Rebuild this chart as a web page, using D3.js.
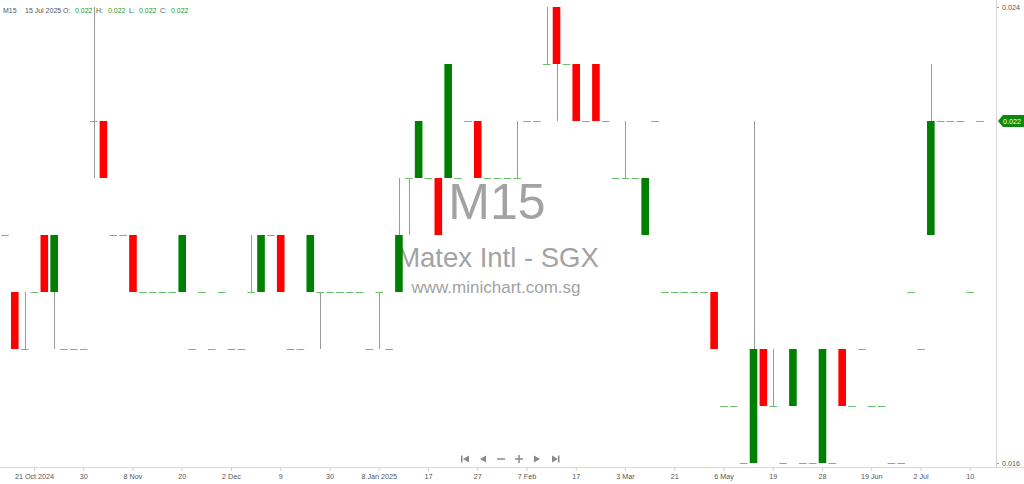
<!DOCTYPE html>
<html>
<head>
<meta charset="utf-8">
<script src="https://cdn.jsdelivr.net/npm/d3@7"></script>
<style>
  body { margin: 0; background: #fff; }
  svg { display: block; font-family: "Liberation Sans", Arial, sans-serif; }
</style>
</head>
<body>
<svg id="chart" width="1024" height="484"></svg>
<script>
// one entry per trading session, oldest first
const opens  = [0.020,0.019,0.018,0.019,0.020,0.019,0.018,0.018,0.018,0.022,
                0.022,0.020,0.020,0.020,0.019,0.019,0.019,0.019,0.019,0.018,
                0.019,0.018,0.019,0.018,0.018,0.019,0.019,0.020,0.020,0.018,
                0.018,0.019,0.019,0.019,0.019,0.019,0.019,0.018,0.019,0.018,
                0.019,0.021,0.021,0.021,0.021,0.021,0.021,0.022,0.022,0.021,
                0.021,0.021,0.021,0.022,0.022,0.023,0.024,0.023,0.023,0.022,
                0.023,0.022,0.021,0.021,0.021,0.020,0.022,0.019,0.019,0.019,
                0.019,0.019,0.019,0.017,0.017,0.016,0.016,0.018,0.017,0.016,
                0.017,0.016,0.016,0.016,0.016,0.018,0.017,0.018,0.017,0.017,
                0.016,0.016,0.019,0.018,0.020,0.022,0.022,0.022,0.019,0.022];
const highs  = [0.020,0.019,0.019,0.019,0.020,0.020,0.018,0.018,0.018,0.024,
                0.022,0.020,0.020,0.020,0.019,0.019,0.019,0.019,0.020,0.018,
                0.019,0.018,0.019,0.018,0.018,0.020,0.020,0.020,0.020,0.018,
                0.018,0.020,0.019,0.019,0.019,0.019,0.019,0.018,0.019,0.018,
                0.021,0.021,0.022,0.021,0.021,0.023,0.021,0.022,0.022,0.021,
                0.021,0.021,0.022,0.022,0.022,0.024,0.024,0.023,0.023,0.022,
                0.023,0.022,0.021,0.022,0.021,0.021,0.022,0.019,0.019,0.019,
                0.019,0.019,0.019,0.017,0.017,0.016,0.022,0.018,0.018,0.016,
                0.018,0.016,0.016,0.018,0.016,0.018,0.017,0.018,0.017,0.017,
                0.016,0.016,0.019,0.018,0.023,0.022,0.022,0.022,0.019,0.022];
const lows   = [0.020,0.018,0.018,0.019,0.019,0.018,0.018,0.018,0.018,0.021,
                0.021,0.020,0.020,0.019,0.019,0.019,0.019,0.019,0.019,0.018,
                0.019,0.018,0.019,0.018,0.018,0.019,0.019,0.020,0.019,0.018,
                0.018,0.019,0.018,0.019,0.019,0.019,0.019,0.018,0.018,0.018,
                0.019,0.020,0.021,0.021,0.020,0.021,0.021,0.022,0.021,0.021,
                0.021,0.021,0.021,0.022,0.022,0.023,0.022,0.023,0.022,0.022,
                0.022,0.022,0.021,0.021,0.021,0.020,0.022,0.019,0.019,0.019,
                0.019,0.019,0.018,0.017,0.017,0.016,0.016,0.017,0.017,0.016,
                0.017,0.016,0.016,0.016,0.016,0.017,0.017,0.018,0.017,0.017,
                0.016,0.016,0.019,0.018,0.020,0.022,0.022,0.022,0.019,0.022];
const closes = [0.020,0.018,0.018,0.019,0.019,0.020,0.018,0.018,0.018,0.022,
                0.021,0.020,0.020,0.019,0.019,0.019,0.019,0.019,0.020,0.018,
                0.019,0.018,0.019,0.018,0.018,0.019,0.020,0.020,0.019,0.018,
                0.018,0.020,0.019,0.019,0.019,0.019,0.019,0.018,0.019,0.018,
                0.020,0.021,0.022,0.021,0.020,0.023,0.021,0.022,0.021,0.021,
                0.021,0.021,0.021,0.022,0.022,0.023,0.023,0.023,0.022,0.022,
                0.022,0.022,0.021,0.021,0.021,0.021,0.022,0.019,0.019,0.019,
                0.019,0.019,0.018,0.017,0.017,0.016,0.018,0.017,0.017,0.016,
                0.018,0.016,0.016,0.018,0.016,0.017,0.017,0.018,0.017,0.017,
                0.016,0.016,0.019,0.018,0.022,0.022,0.022,0.022,0.019,0.022];

// date labels under the axis, by session number
const tickSessions = [3, 8, 13, 18, 23, 28, 33, 38, 43, 48, 53, 58, 63, 68, 73, 78, 83, 88, 93, 98];
const tickLabels = ['21 Oct 2024', '30', '8 Nov', '20', '2 Dec', '9', '30', '8 Jan 2025', '17', '27',
                    '7 Feb', '17', '3 Mar', '21', '6 May', '19', '28', '19 Jun', '2 Jul', '10'];
const priceTicks = [0.016, 0.024];
const lastPrice = 0.022;

const W = 1024;
const plotRight = 996, plotBottom = 467;

const svg = d3.select('#chart');

const x = d3.scaleBand()
  .domain(opens.map((d, i) => i))
  .range([0, 985])
  .padding(0);

const y = d3.scaleLinear()
  .domain([0.016, 0.024])
  .range([463, 7]);

const cx = i => x(i) + x.bandwidth() / 2;
const bodyW = 7.6;

// watermark sits under the candles
const wm = svg.append('g').attr('fill', '#a3a3a3').attr('text-anchor', 'middle');
wm.append('text').attr('x', 497).attr('y', 219).attr('font-size', 50).text('M15');
wm.append('text').attr('x', 498).attr('y', 267).attr('font-size', 27.5).text('Matex Intl - SGX');
wm.append('text').attr('x', 496).attr('y', 293).attr('font-size', 17).text('www.minichart.com.sg');

const candles = svg.append('g')
  .selectAll('g')
  .data(opens)
  .join('g');

candles.each(function (o, i) {
  const g = d3.select(this);
  const c = closes[i];
  const wx = Math.round(cx(i)) + 0.5;
  if (highs[i] !== lows[i]) {
    g.append('line')
      .attr('x1', wx).attr('x2', wx)
      .attr('y1', y(highs[i]))
      .attr('y2', y(lows[i]))
      .attr('stroke', '#9a9a9a')
      .attr('stroke-width', 1);
  }
  if (o === c) {
    g.append('line')
      .attr('x1', cx(i) - bodyW / 2)
      .attr('x2', cx(i) + bodyW / 2)
      .attr('y1', Math.round(y(o)) + 0.5)
      .attr('y2', Math.round(y(o)) + 0.5)
      .attr('stroke', '#6cbf6c')
      .attr('stroke-width', 1);
  } else {
    g.append('rect')
      .attr('x', cx(i) - bodyW / 2)
      .attr('width', bodyW)
      .attr('y', y(Math.max(o, c)))
      .attr('height', Math.abs(y(o) - y(c)))
      .attr('fill', c > o ? '#008000' : '#ff0000');
  }
});

// bottom axis
const xAxis = d3.axisBottom(x)
  .tickValues(tickSessions)
  .tickFormat(d => tickLabels[tickSessions.indexOf(d)])
  .tickSize(4)
  .tickSizeOuter(0);

const gx = svg.append('g')
  .attr('transform', `translate(0,${plotBottom})`)
  .call(xAxis);
gx.select('.domain').remove();
gx.append('line').attr('x1', 0).attr('x2', W).attr('y1', 0.5).attr('y2', 0.5).attr('stroke', '#d8d8d8');
gx.selectAll('.tick line').attr('stroke', '#cfcfcf');
gx.selectAll('.tick text')
  .attr('y', 7)
  .attr('fill', '#555')
  .attr('font-size', 7.2)
  .attr('font-family', '"Liberation Sans", Arial, sans-serif');

// right price axis
const yAxis = d3.axisRight(y)
  .tickValues(priceTicks)
  .tickFormat(d3.format('.3f'))
  .tickSize(3)
  .tickSizeOuter(0);

const gy = svg.append('g')
  .attr('transform', `translate(${plotRight},0)`)
  .call(yAxis);
gy.select('.domain').remove();
gy.append('line').attr('x1', 0.5).attr('x2', 0.5).attr('y1', 0).attr('y2', plotBottom).attr('stroke', '#d8d8d8');
gy.selectAll('.tick line').attr('stroke', '#999');
gy.selectAll('.tick text')
  .attr('x', 6)
  .attr('fill', '#555')
  .attr('font-size', 7.2)
  .attr('font-family', '"Liberation Sans", Arial, sans-serif');

// last price tag
const ly = y(lastPrice);
svg.append('path')
  .attr('d', `M${plotRight + 2},${ly} L${plotRight + 7},${ly - 6} H${W} V${ly + 6} H${plotRight + 7} Z`)
  .attr('fill', '#0a8a0a');
svg.append('text')
  .attr('x', plotRight + 7)
  .attr('y', ly + 3)
  .attr('fill', '#fff')
  .attr('font-size', 7.2)
  .text(d3.format('.3f')(lastPrice));

// header line
const last = opens.length - 1;
const head = svg.append('g').attr('font-size', 7).attr('fill', '#555');
head.append('text').attr('x', 3).attr('y', 13).text('M15');
head.append('text').attr('x', 25).attr('y', 13).text('15 Jul 2025');
const hdr = [['O:', opens[last]], ['H:', highs[last]], ['L:', lows[last]], ['C:', closes[last]]];
const hx = [63, 96, 129, 160];
const vx = [75, 108, 139, 171];
hdr.forEach(([k, v], j) => {
  head.append('text').attr('x', hx[j]).attr('y', 13).text(k);
  head.append('text').attr('x', vx[j]).attr('y', 13).attr('fill', '#1a9a1a').text(d3.format('.3f')(v));
});

// navigation buttons
const nav = svg.append('g').attr('fill', '#8a8a8a').attr('transform', 'translate(0,459)');
nav.append('rect').attr('x', 461).attr('y', -3.5).attr('width', 1.5).attr('height', 7);
nav.append('path').attr('d', 'M463,0 L469,-3.5 V3.5 Z');
nav.append('path').attr('d', 'M480,0 L486,-3.5 V3.5 Z');
nav.append('rect').attr('x', 497).attr('y', -0.75).attr('width', 8).attr('height', 1.5);
nav.append('rect').attr('x', 515).attr('y', -0.75).attr('width', 8).attr('height', 1.5);
nav.append('rect').attr('x', 518.25).attr('y', -4).attr('width', 1.5).attr('height', 8);
nav.append('path').attr('d', 'M540,0 L534,-3.5 V3.5 Z');
nav.append('path').attr('d', 'M558,0 L552,-3.5 V3.5 Z');
nav.append('rect').attr('x', 558).attr('y', -3.5).attr('width', 1.5).attr('height', 7);
</script>
</body>
</html>
